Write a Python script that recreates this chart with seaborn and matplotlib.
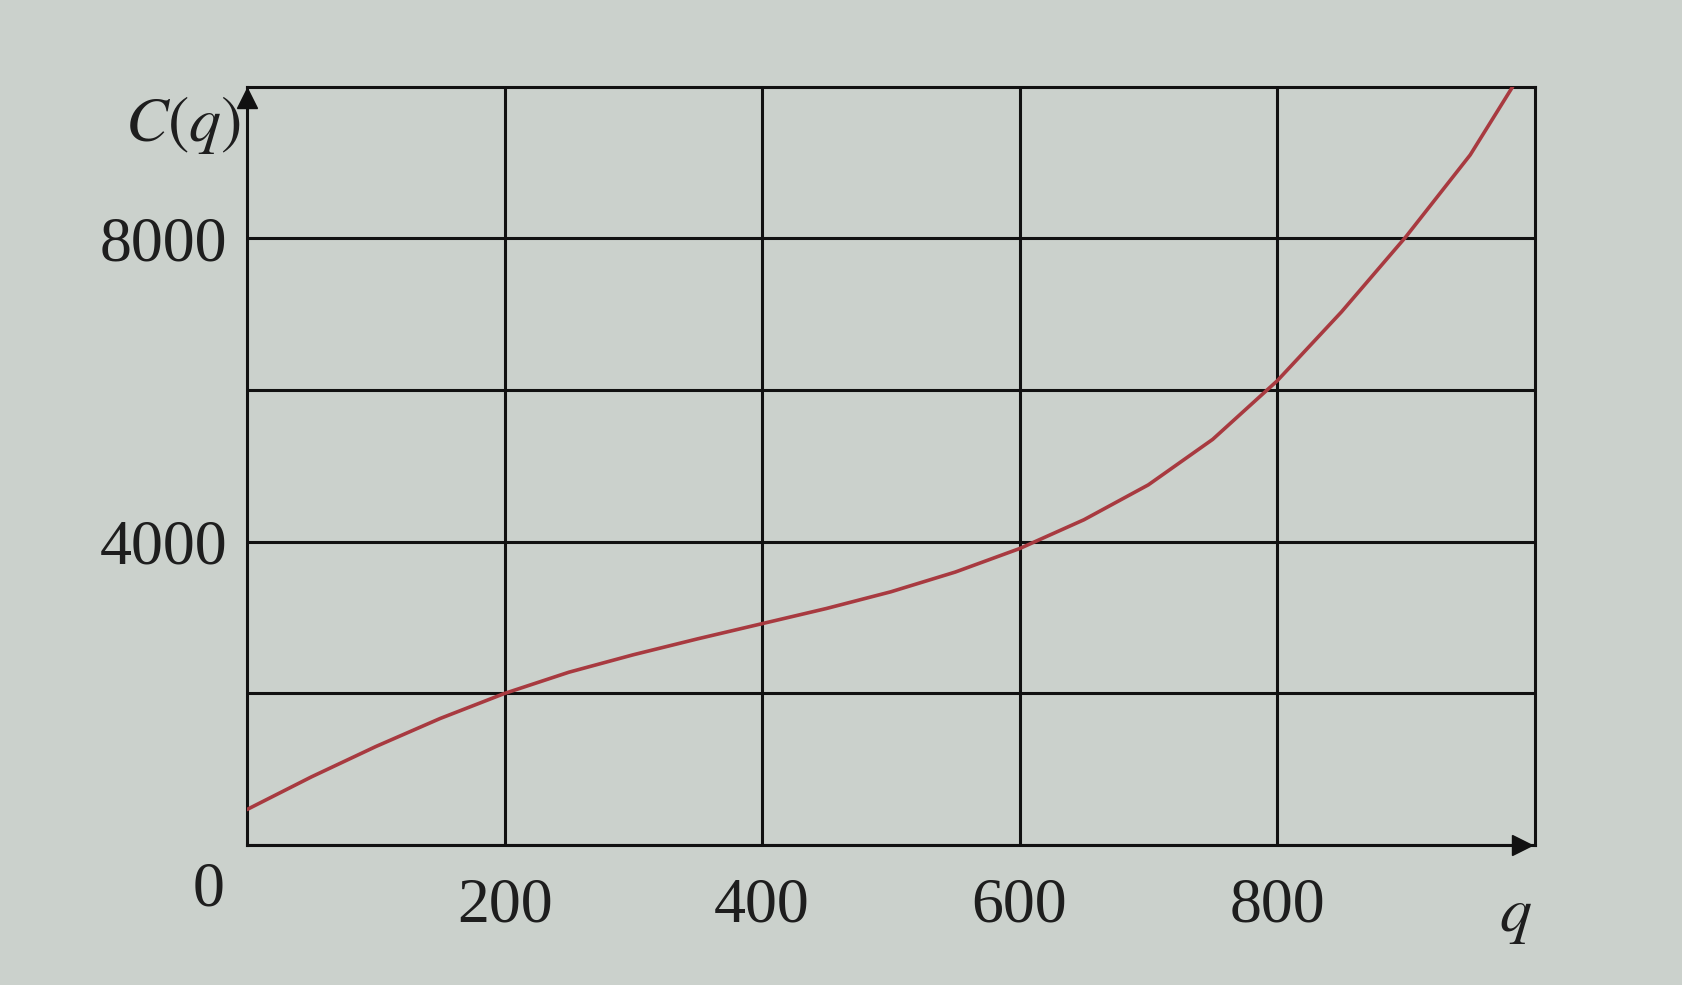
import numpy as np
import pandas as pd
import matplotlib
matplotlib.use("Agg")
import matplotlib.pyplot as plt
import seaborn as sns

# values
q = [0, 50, 100, 150, 200, 250, 300, 350, 400, 450, 500, 550, 600,
     650, 700, 750, 800, 850, 900, 950, 983]
cost = [470, 900, 1300, 1670, 2000, 2280, 2510, 2720, 2920, 3120, 3340, 3600, 3910,
        4290, 4750, 5350, 6120, 7030, 8020, 9100, 10000]
xticks = [200, 400, 600, 800]
yticks = [0, 2000, 4000, 6000, 8000]
ylabels = ["", "", "4000", "", "8000"]

df = pd.DataFrame({"q": q, "C": cost})

sns.set_style("white")
plt.rcParams["font.family"] = ["Liberation Serif", "DejaVu Serif"]
plt.rcParams["mathtext.fontset"] = "stix"

bg = "#cbd1cc"
fig = plt.figure(figsize=(16.83, 9.85), dpi=100, facecolor=bg)
ax = fig.add_axes([0.1468, 0.142, 0.765, 0.770], facecolor=bg)

sns.lineplot(data=df, x="q", y="C", ax=ax, color="#a83a40", linewidth=2.6, zorder=3)

ax.set_xlim(0, 1000)
ax.set_ylim(0, 10000)
ax.set_xticks(xticks)
ax.set_xticklabels([str(v) for v in xticks])
ax.set_yticks(yticks)
ax.set_yticklabels(ylabels)
ax.tick_params(axis="both", direction="out", length=12, width=2, color="#1a1a1a",
               labelsize=46, labelcolor="#1e1e1e")
ax.tick_params(axis="y", pad=2)
ax.tick_params(axis="x", pad=11)

ax.grid(True, color="#111111", linewidth=2.2)
ax.set_axisbelow(True)
for s in ax.spines.values():
    s.set_color("#111111")
    s.set_linewidth(2.2)
ax.set_xlabel("")
ax.set_ylabel("")

# axis arrows
ax.plot([0], [0.985], marker="^", markersize=14, color="#111111", transform=ax.transAxes, clip_on=False)
ax.plot([0.99], [0], marker=">", markersize=14, color="#111111", transform=ax.transAxes, clip_on=False)

ax.text(-0.05, 0.95, r"$C(q)$", transform=ax.transAxes, fontsize=46, ha="center", va="center",
        color="#1e1e1e")
ax.text(0.985, -0.095, r"$q$", transform=ax.transAxes, fontsize=46, ha="center", va="center",
        color="#1e1e1e")
ax.text(-0.03, -0.06, "0", transform=ax.transAxes, fontsize=46, ha="center", va="center",
        color="#1e1e1e")

fig.savefig("out.png", dpi=100, facecolor=bg)
